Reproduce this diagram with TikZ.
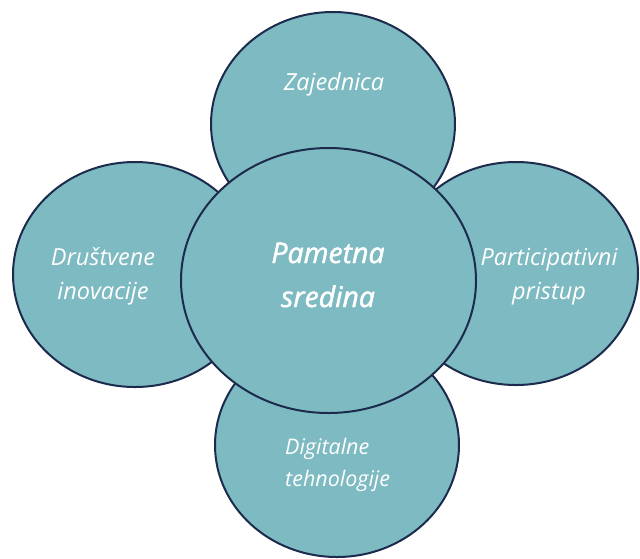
\documentclass[tikz,border=0pt]{standalone}
\usepackage{fontspec}
\setmainfont{Open Sans}
\newfontfamily\semibfont[FakeBold=1.6]{Open Sans}
\definecolor{tealfill}{HTML}{7DBAC1}
\definecolor{navyline}{HTML}{1C2B4D}
\begin{document}
\begin{tikzpicture}[x=1pt,y=-1pt,
  blob/.style={fill=tealfill,draw=navyline,line width=2pt},
  lbl/.style={text=white,anchor=base,inner sep=0pt,font=\fontsize{23.5}{28}\selectfont\itshape},
  lbls/.style={text=white,anchor=base west,inner sep=0pt,font=\fontsize{21.5}{25}\selectfont\itshape},
  lblc/.style={text=white,anchor=base,inner sep=0pt,font=\fontsize{28.5}{33}\selectfont\semibfont\itshape}]
\useasboundingbox (0,0) rectangle (640,558);
\path[blob] (333,124) ellipse [x radius=122,y radius=112];
\path[blob] (135,274.5) ellipse [x radius=122,y radius=112.5];
\path[blob] (516,273.5) ellipse [x radius=122,y radius=111.5];
\path[blob] (337,445) ellipse [x radius=122,y radius=112];
\path[blob] (328.5,280.5) ellipse [x radius=147.5,y radius=132.5];
\node[lbl] (zaj) at (334,90) {Zajednica};
\node[lbl] (dru1) at (103,265) {Društvene};
\node[lbl] (dru2) at (103,299) {inovacije};
\node[lbl] (par1) at (549,265) {Participativni};
\node[lbl] (par2) at (549,299) {pristup};
\node[lbls] (dig1) at (285,454) {Digitalne};
\node[lbls] (dig2) at (285,486) {tehnologije};
\node[lblc] (pam1) at (328,263) {Pametna};
\node[lblc] (pam2) at (328,307) {sredina};
\end{tikzpicture}
\end{document}
